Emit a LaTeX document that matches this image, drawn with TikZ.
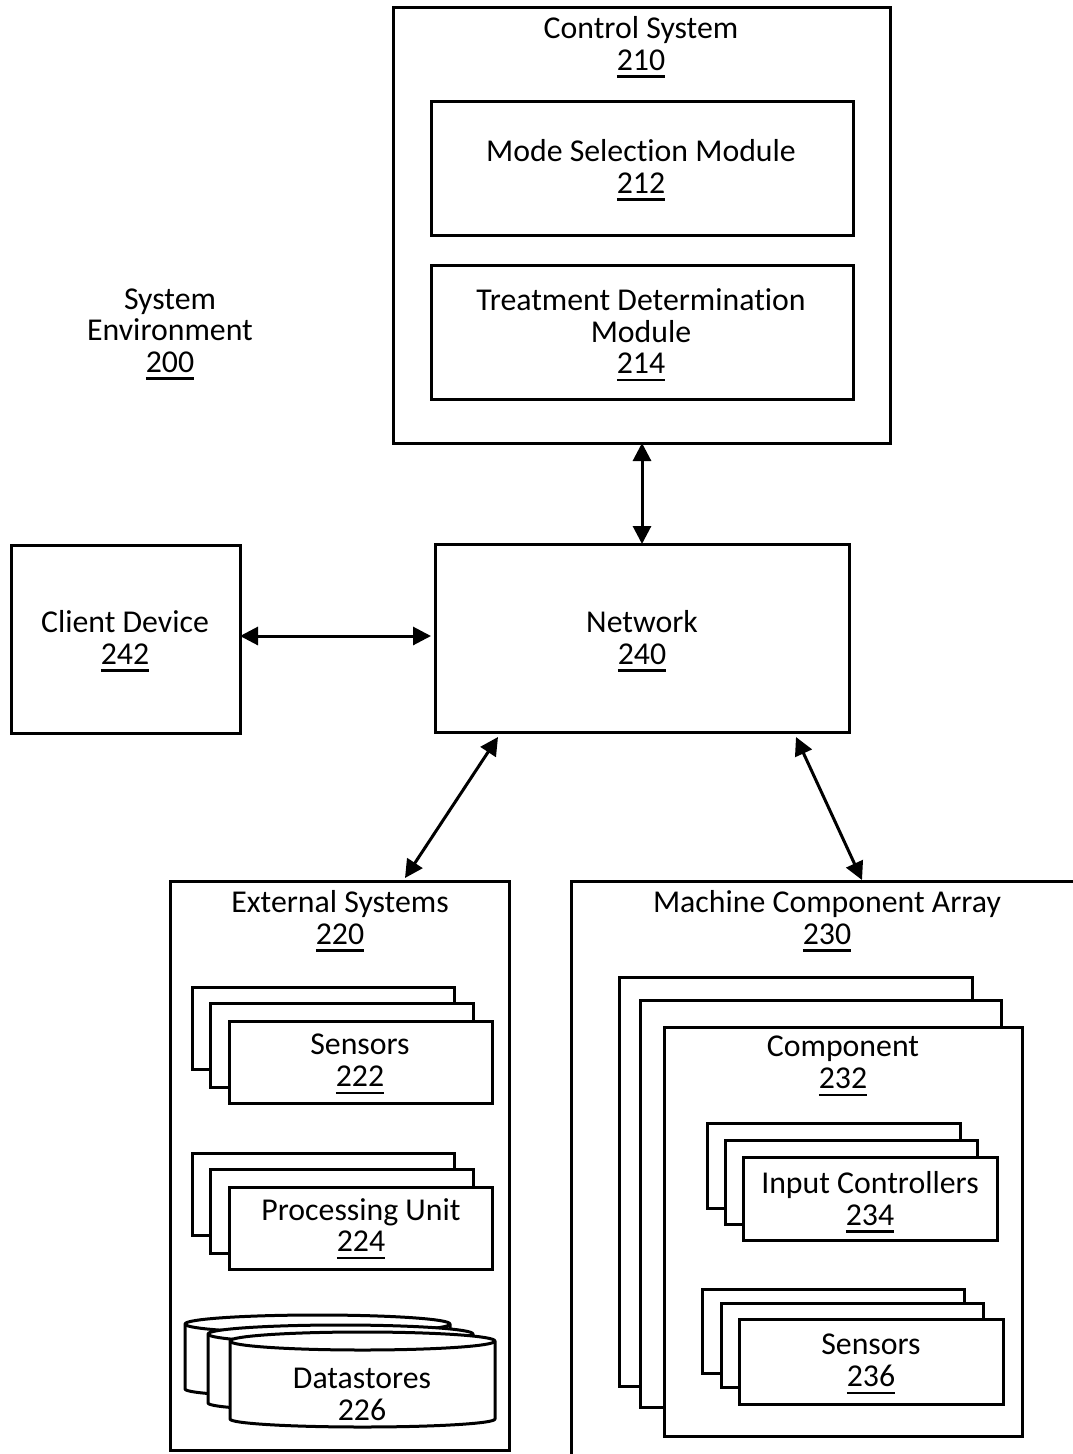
\documentclass[tikz,border=0pt]{standalone}
\usepackage{fontspec}
\setmainfont[Ligatures={NoCommon,NoRequired,NoContextual}]{Carlito}
\usetikzlibrary{arrows.meta}

% reference numerals: digits with a heavy underline
\newsavebox\refbox
\newcommand\refno[1]{\sbox\refbox{#1}\rlap{\rule[-7.5pt]{\wd\refbox}{2.2pt}}\usebox\refbox}

\tikzset{
  box/.style={draw, line width=3pt, fill=white, inner sep=0pt, outer sep=0pt,
              anchor=north west},
  lbl/.style={align=center, inner sep=0pt, outer sep=0pt,
              font=\fontsize{31.8}{31.5}\selectfont},
  conn/.style={line width=3pt,
               {Triangle[length=18pt,width=18pt]}-{Triangle[length=18pt,width=18pt]}},
  drum/.style={line width=3pt, fill=white, line join=round}
}

% stacked drum (database) outline: left x, right x, top centre y, bottom centre y
\newcommand\drumat[4]{%
  \pgfmathsetmacro\rx{(#2-#1)/2}%
  \filldraw[drum] (#1,#3) -- (#1,#4)
    arc[start angle=180, end angle=360, x radius=\rx, y radius=8]
    -- (#2,#3)
    arc[start angle=0, end angle=180, x radius=\rx, y radius=9] -- cycle;
  \draw[drum, fill=none] (#1,#3)
    arc[start angle=180, end angle=360, x radius=\rx, y radius=9];
}

\begin{document}
\begin{tikzpicture}[x=1pt, y=1pt]
\useasboundingbox (0,0) rectangle (1073,-1454);
\clip (0,0) rectangle (1073,-1454);

% ---------- control system ----------
\node[box, minimum width=497pt, minimum height=436pt] (ctrl) at (393,-7) {};
\node[lbl] (ctrlT) at (641,-47) {Control System\\\refno{210}};
\node[box, minimum width=422pt, minimum height=134pt] (msm) at (431,-101) {};
\node[lbl] (msmT) at (641,-170) {Mode Selection Module\\\refno{212}};
\node[box, minimum width=422pt, minimum height=134pt] (tdm) at (431,-265) {};
\node[lbl] (tdmT) at (641,-335) {Treatment Determination\\Module\\\refno{214}};

% ---------- environment label ----------
\node[lbl] (env) at (170,-334) {System\\Environment\\\refno{200}};

% ---------- network and client ----------
\node[box, minimum width=414pt, minimum height=188pt] (net) at (435,-544) {};
\node[lbl] (netT) at (642,-641) {Network\\\refno{240}};
\node[box, minimum width=229pt, minimum height=188pt] (client) at (11,-545) {};
\node[lbl] (clientT) at (125,-641) {Client Device\\\refno{242}};

% ---------- external systems ----------
\node[box, minimum width=339pt, minimum height=569pt] (ext) at (170,-881) {};
\node[lbl] (extT) at (340,-921) {External Systems\\\refno{220}};

\node[box, minimum width=262pt, minimum height=82pt] (s222c) at (192,-987) {};
\node[box, minimum width=263pt, minimum height=84pt] (s222b) at (210,-1003) {};
\node[box, minimum width=263pt, minimum height=82pt] (s222a) at (229,-1021) {};
\node[lbl] (s222T) at (360,-1064) {Sensors\\\refno{222}};

\node[box, minimum width=262pt, minimum height=82pt] (pu224c) at (192,-1153) {};
\node[box, minimum width=263pt, minimum height=84pt] (pu224b) at (210,-1169) {};
\node[box, minimum width=263pt, minimum height=82pt] (pu224a) at (229,-1187) {};
\node[lbl] (pu224T) at (361,-1229) {Processing Unit\\\refno{224}};

\drumat{185}{450}{-1324}{-1389}
\drumat{208}{473}{-1334}{-1403}
\drumat{230}{495}{-1341}{-1419}
\node[lbl] (ds226T) at (362,-1398) {Datastores\\\refno{226}};

% ---------- machine component array ----------
\node[box, minimum width=529pt, minimum height=599pt] (mca) at (571,-881) {};
\node[lbl] (mcaT) at (827,-921) {Machine Component Array\\\refno{230}};

\node[box, minimum width=353pt, minimum height=409pt] (compc) at (619,-977) {};
\node[box, minimum width=361pt, minimum height=407pt] (compb) at (640,-1000) {};
\node[box, minimum width=358pt, minimum height=409pt] (compa) at (664,-1027) {};
\node[lbl] (compT) at (843,-1066) {Component\\\refno{232}};

\node[box, minimum width=253pt, minimum height=85pt] (ic234c) at (707,-1123) {};
\node[box, minimum width=252pt, minimum height=84pt] (ic234b) at (725,-1140) {};
\node[box, minimum width=254pt, minimum height=83pt] (ic234a) at (743,-1157) {};
\node[lbl] (ic234T) at (870,-1202) {Input Controllers\\\refno{234}};

\node[box, minimum width=262pt, minimum height=84pt] (s236c) at (702,-1289) {};
\node[box, minimum width=262pt, minimum height=84pt] (s236b) at (721,-1303) {};
\node[box, minimum width=264pt, minimum height=85pt] (s236a) at (739,-1319) {};
\node[lbl] (s236T) at (871,-1364) {Sensors\\\refno{236}};

% ---------- connectors ----------
\coordinate (netSW1) at ([xshift=63pt,yshift=-5pt]net.south west);
\coordinate (netSW2) at ([xshift=361pt,yshift=-5pt]net.south west);
\coordinate (extIn) at ([xshift=235pt,yshift=3pt]ext.north west);
\coordinate (mcaIn) at ([xshift=291pt,yshift=1pt]mca.north west);

\draw[conn] (ctrl.south -| net.north) -- (net.north);
\draw[conn] ([yshift=3pt]client.east) -- ([yshift=3pt,xshift=-4pt]client.east -| net.west);
\draw[conn] (netSW1) -- (extIn);
\draw[conn] (netSW2) -- (mcaIn);
\end{tikzpicture}
\end{document}
